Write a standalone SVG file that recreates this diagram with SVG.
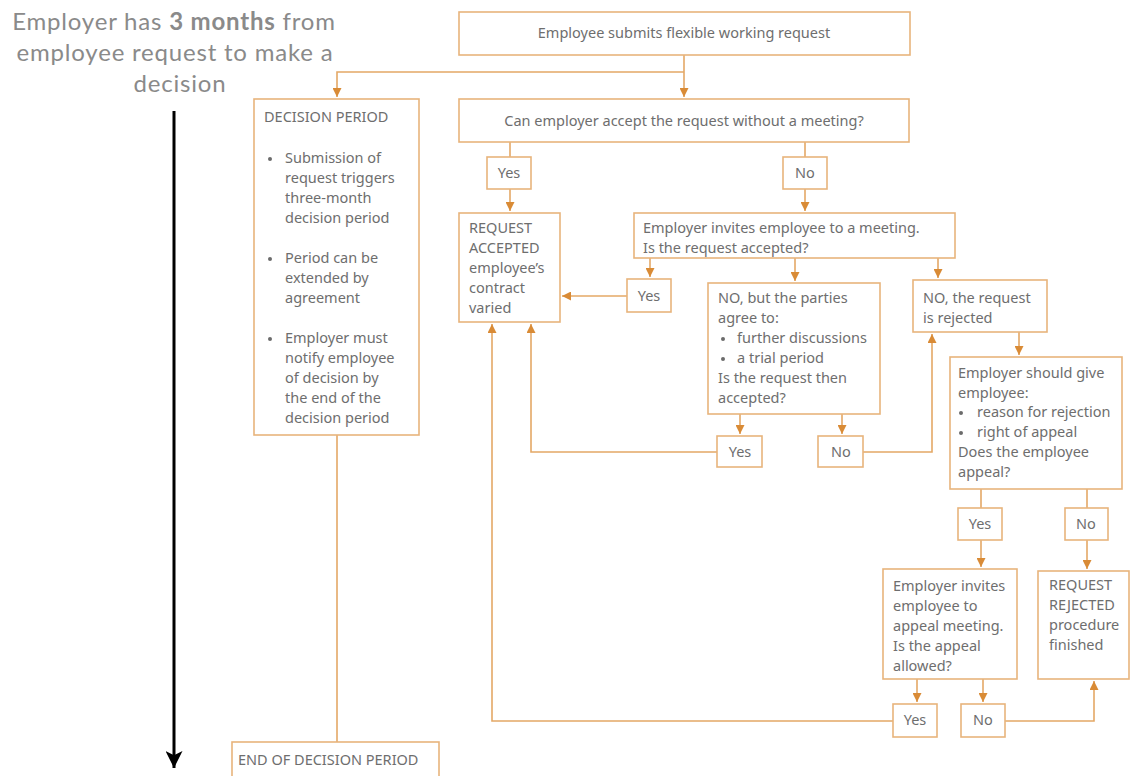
<svg xmlns="http://www.w3.org/2000/svg" width="1131" height="776" viewBox="0 0 1131 776">
<style>
.box{fill:#fff;stroke:#E8B47C;stroke-width:1.6}
.ln{fill:none;stroke:#E4A866;stroke-width:1.6}
.t{font-family:"Noto Sans","Open Sans",sans-serif;font-size:14.5px;fill:#6e6e6e}
.tc{text-anchor:middle}
.hd{font-family:Lato,"Open Sans",sans-serif;font-size:24px;fill:#8a8a8a;text-anchor:middle;letter-spacing:0.8px}
.dot{fill:#6b6b6b}
</style>
<defs>
<marker id="ah" markerUnits="userSpaceOnUse" markerWidth="10" markerHeight="9" viewBox="0 0 10 10" refX="10" refY="5" orient="auto">
<path d="M0,0 L10,5 L0,10 z" fill="#D98B36"/>
</marker>
<marker id="bh" markerUnits="userSpaceOnUse" markerWidth="17" markerHeight="17" viewBox="0 0 10 10" refX="10" refY="5" orient="auto">
<path d="M0,0 L10,5 L0,10 L2.5,5 z" fill="#000"/>
</marker>
</defs>
<rect width="1131" height="776" fill="#fff"/>

<g id="header">
<text class="hd" x="174" y="30">Employer has <tspan font-weight="bold">3 months</tspan> from</text>
<text class="hd" x="175" y="61">employee request to make a</text>
<text class="hd" x="180" y="92">decision</text>
</g>

<g id="connectors">
<line x1="174" y1="111" x2="174" y2="768" stroke="#000" stroke-width="3" marker-end="url(#bh)"/>
<path class="ln" d="M684,55 V97" marker-end="url(#ah)"/>
<path class="ln" d="M684,72 H337 V97" marker-end="url(#ah)"/>
<path class="ln" d="M510,142 V157"/>
<path class="ln" d="M510,189 V211" marker-end="url(#ah)"/>
<path class="ln" d="M805,142 V157"/>
<path class="ln" d="M805,189 V211" marker-end="url(#ah)"/>
<path class="ln" d="M650,258 V277" marker-end="url(#ah)"/>
<path class="ln" d="M795,258 V281" marker-end="url(#ah)"/>
<path class="ln" d="M938,258 V278" marker-end="url(#ah)"/>
<path class="ln" d="M627,296 H562" marker-end="url(#ah)"/>
<path class="ln" d="M740,414 V434" marker-end="url(#ah)"/>
<path class="ln" d="M842,414 V434" marker-end="url(#ah)"/>
<path class="ln" d="M717,452 H531 V324" marker-end="url(#ah)"/>
<path class="ln" d="M863,452 H932 V334" marker-end="url(#ah)"/>
<path class="ln" d="M1019,332 V355" marker-end="url(#ah)"/>
<path class="ln" d="M981,489 V508"/>
<path class="ln" d="M981,540 V567" marker-end="url(#ah)"/>
<path class="ln" d="M1087,489 V508"/>
<path class="ln" d="M1087,540 V569" marker-end="url(#ah)"/>
<path class="ln" d="M917,679 V702" marker-end="url(#ah)"/>
<path class="ln" d="M983,679 V702" marker-end="url(#ah)"/>
<path class="ln" d="M1005,721 H1094 V681" marker-end="url(#ah)"/>
<path class="ln" d="M893,721 H492 V324" marker-end="url(#ah)"/>
<path class="ln" d="M337,435 V742"/>
</g>

<g id="submit">
<rect class="box" x="459" y="12" width="451" height="43"/>
<text class="t tc" x="684" y="38">Employee submits flexible working request</text>
</g>

<g id="decision-period">
<rect class="box" x="254" y="99" width="165" height="336"/>
<text class="t" x="264" y="122">DECISION PERIOD</text>
<circle class="dot" cx="270" cy="159" r="2"/>
<text class="t" x="285" y="163">Submission of</text>
<text class="t" x="285" y="183">request triggers</text>
<text class="t" x="285" y="203">three-month</text>
<text class="t" x="285" y="223">decision period</text>
<circle class="dot" cx="270" cy="259" r="2"/>
<text class="t" x="285" y="263">Period can be</text>
<text class="t" x="285" y="283">extended by</text>
<text class="t" x="285" y="303">agreement</text>
<circle class="dot" cx="270" cy="339" r="2"/>
<text class="t" x="285" y="343">Employer must</text>
<text class="t" x="285" y="363">notify employee</text>
<text class="t" x="285" y="383">of decision by</text>
<text class="t" x="285" y="403">the end of the</text>
<text class="t" x="285" y="423">decision period</text>
</g>

<g id="end-period">
<rect class="box" x="232" y="742" width="207" height="40"/>
<text class="t" x="238" y="765">END OF DECISION PERIOD</text>
</g>

<g id="q-no-meeting">
<rect class="box" x="459" y="99" width="450" height="43"/>
<text class="t tc" x="684" y="126">Can employer accept the request without a meeting?</text>
</g>

<g id="yes1">
<rect class="box" x="487" y="157" width="44" height="32"/>
<text class="t tc" x="509" y="178">Yes</text>
</g>

<g id="no1">
<rect class="box" x="783" y="157" width="44" height="32"/>
<text class="t tc" x="805" y="178">No</text>
</g>

<g id="accepted">
<rect class="box" x="459" y="213" width="101" height="109"/>
<text class="t" x="469" y="233">REQUEST</text>
<text class="t" x="469" y="253">ACCEPTED</text>
<text class="t" x="469" y="273">employee’s</text>
<text class="t" x="469" y="293">contract</text>
<text class="t" x="469" y="313">varied</text>
</g>

<g id="meeting">
<rect class="box" x="634" y="213" width="321" height="45"/>
<text class="t" x="643" y="233">Employer invites employee to a meeting.</text>
<text class="t" x="643" y="253">Is the request accepted?</text>
</g>

<g id="yes2">
<rect class="box" x="627" y="279" width="44" height="33"/>
<text class="t tc" x="649" y="301">Yes</text>
</g>

<g id="no-but">
<rect class="box" x="708" y="283" width="172" height="131"/>
<text class="t" x="718" y="303">NO, but the parties</text>
<text class="t" x="718" y="323">agree to:</text>
<circle class="dot" cx="723" cy="339" r="2"/>
<text class="t" x="737" y="343">further discussions</text>
<circle class="dot" cx="723" cy="359" r="2"/>
<text class="t" x="737" y="363">a trial period</text>
<text class="t" x="718" y="383">Is the request then</text>
<text class="t" x="718" y="403">accepted?</text>
</g>

<g id="yes3">
<rect class="box" x="717" y="436" width="45" height="31"/>
<text class="t tc" x="740" y="457">Yes</text>
</g>

<g id="no3">
<rect class="box" x="818" y="436" width="45" height="31"/>
<text class="t tc" x="841" y="457">No</text>
</g>

<g id="rejected-no">
<rect class="box" x="913" y="280" width="134" height="52"/>
<text class="t" x="923" y="303">NO, the request</text>
<text class="t" x="923" y="323">is rejected</text>
</g>

<g id="should-give">
<rect class="box" x="950" y="357" width="172" height="132"/>
<text class="t" x="958" y="378">Employer should give</text>
<text class="t" x="958" y="398">employee:</text>
<circle class="dot" cx="961" cy="413" r="2"/>
<text class="t" x="977" y="417">reason for rejection</text>
<circle class="dot" cx="961" cy="433" r="2"/>
<text class="t" x="977" y="437">right of appeal</text>
<text class="t" x="958" y="457">Does the employee</text>
<text class="t" x="958" y="477">appeal?</text>
</g>

<g id="yes4">
<rect class="box" x="958" y="508" width="44" height="32"/>
<text class="t tc" x="980" y="529">Yes</text>
</g>

<g id="no4">
<rect class="box" x="1065" y="508" width="43" height="32"/>
<text class="t tc" x="1086" y="529">No</text>
</g>

<g id="appeal-meeting">
<rect class="box" x="883" y="569" width="134" height="110"/>
<text class="t" x="893" y="591">Employer invites</text>
<text class="t" x="893" y="611">employee to</text>
<text class="t" x="893" y="631">appeal meeting.</text>
<text class="t" x="893" y="651">Is the appeal</text>
<text class="t" x="893" y="671">allowed?</text>
</g>

<g id="request-rejected">
<rect class="box" x="1038" y="571" width="91" height="108"/>
<text class="t" x="1049" y="590">REQUEST</text>
<text class="t" x="1049" y="610">REJECTED</text>
<text class="t" x="1049" y="630">procedure</text>
<text class="t" x="1049" y="650">finished</text>
</g>

<g id="yes5">
<rect class="box" x="893" y="704" width="44" height="33"/>
<text class="t tc" x="915" y="725">Yes</text>
</g>

<g id="no5">
<rect class="box" x="961" y="704" width="44" height="33"/>
<text class="t tc" x="983" y="725">No</text>
</g>
</svg>
